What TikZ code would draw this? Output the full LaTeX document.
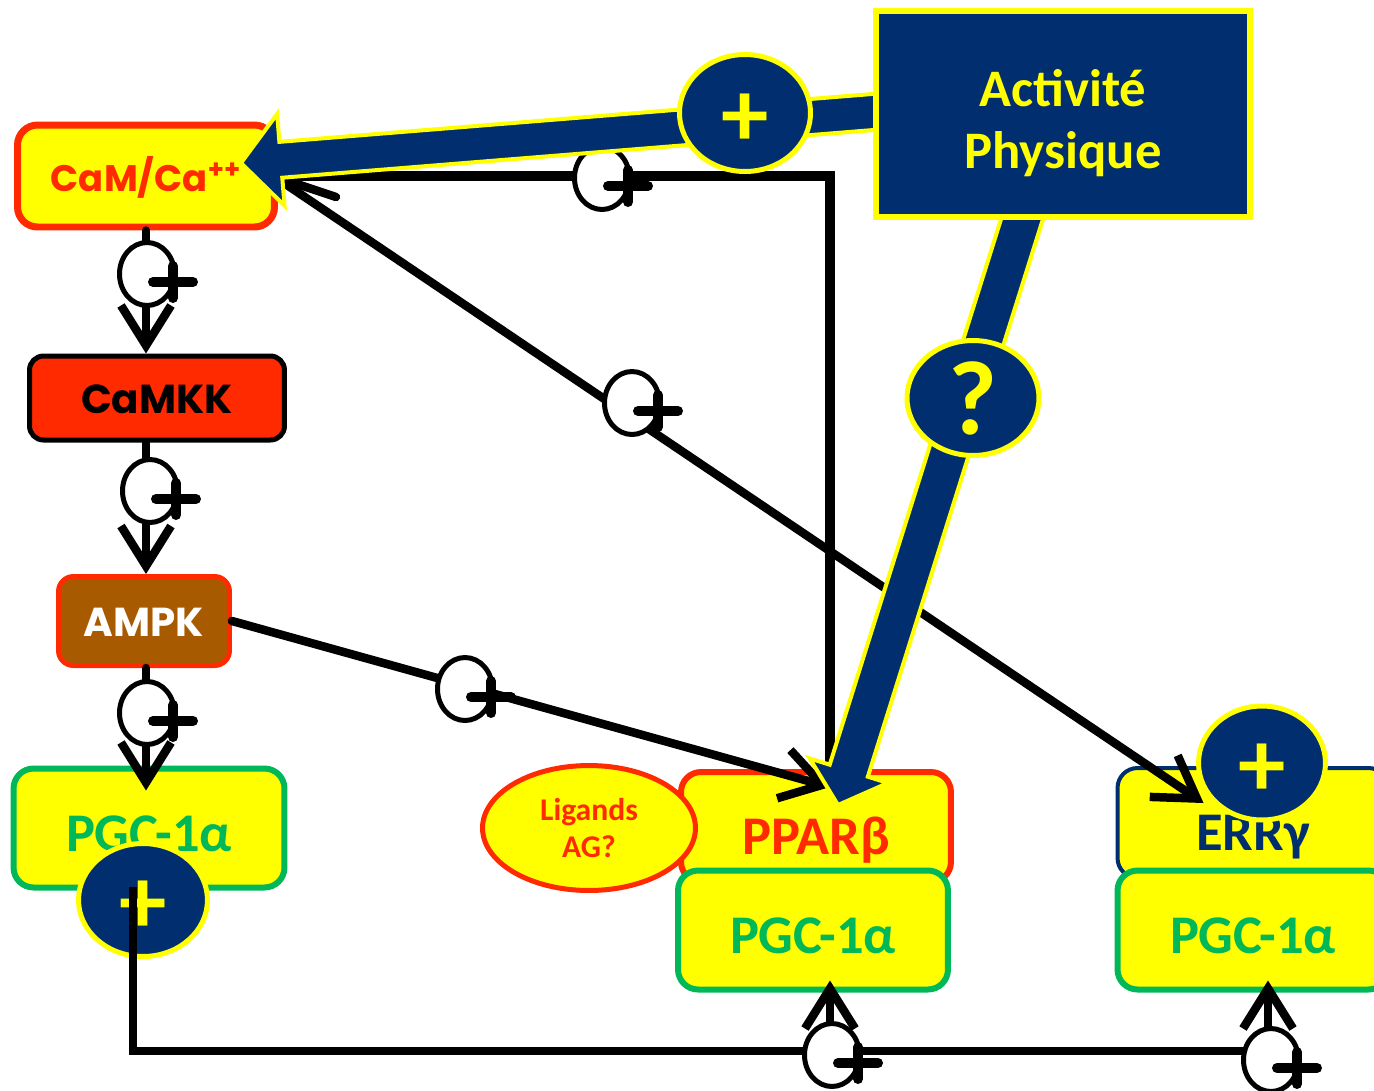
\documentclass[tikz,border=0pt]{standalone}
\usepackage{fontspec}
\setmainfont{Carlito}
\newfontfamily\comic{Poppins}
\usepackage{tikz}
\usetikzlibrary{shapes.geometric, arrows.meta, positioning, calc}

\definecolor{navyblue}{RGB}{0,46,110}
\definecolor{yel}{RGB}{255,255,0}
\definecolor{redb}{RGB}{255,42,0}
\definecolor{grn}{RGB}{0,184,88}
\definecolor{brownk}{RGB}{168,90,0}

\pgfdeclarelayer{front}
\pgfsetlayers{main,front}

\begin{document}
\begin{tikzpicture}[
        x=0.02cm, y=-0.02cm,
        box/.style={draw, rounded corners=0.4cm, line width=0.12cm, fill=yel, inner sep=0pt, text height=26.4pt, text depth=0pt, font=\bfseries\fontsize{31}{33}\selectfont},
        kbox/.style={box, text height=17.5pt, font=\comic\bfseries\fontsize{23}{25}\selectfont},
        blob/.style={ellipse, draw=yel, fill=navyblue, line width=0.1cm, text=yel, inner sep=0pt, font=\bfseries\fontsize{54}{54}\selectfont},
        ring/.style={ellipse, draw, fill=white, line width=0.1cm, minimum width=1.1cm, minimum height=1.26cm, inner sep=0pt},
        link/.style={line width=0.17cm, line cap=round},
        arrow/.style={link, -{Straight Barb[length=0.8cm, width=1cm]}},
        fat/.style={draw=yel, fill=navyblue, line width=0.08cm},
        plusbar/.style={line width=0.2cm, line cap=round},
        actplus/.pic={
            \node[ring] (-c) at (0,0) {};
            \draw[plusbar] (6,8) -- (46,8) (26,-8) -- (26,24);
        }
    ]
    \useasboundingbox (0,0) rectangle (1374,1090);
    \clip (0,0) rectangle (1374,1090);

    % Signalling cascade
    \node[kbox, draw=redb, line width=0.14cm, minimum width=5.14cm, minimum height=2.04cm, text=redb, font=\comic\bfseries\fontsize{21}{23}\selectfont] (cam) at (146,176) {CaM/Ca\textsuperscript{++}};
    \node[kbox, fill=redb, rounded corners=0.28cm, line width=0.1cm, minimum width=5.1cm, minimum height=1.68cm] (camkk) at (157,398) {CaMKK};
    \node[kbox, fill=brownk, draw=redb, rounded corners=0.3cm, line width=0.1cm, minimum width=3.42cm, minimum height=1.78cm, text=white] (ampk) at (144,621) {AMPK};
    \node[box, draw=grn, minimum width=5.42cm, minimum height=2.38cm, text=grn] (pgcL) at (149,828) {PGC-1α};

    % Nuclear receptors
    \node[box, draw=redb, minimum width=5.4cm, minimum height=2.2cm, text=redb, text height=31pt] (ppar) at (816,827) {PPARβ};
    \node[box, draw=grn, minimum width=5.4cm, minimum height=2.38cm, text=grn] (pgcM) at (813,930) {PGC-1α};
    \node[box, draw=navyblue, line width=0.08cm, minimum width=5.42cm, minimum height=2.2cm, text=navyblue, text height=31pt] (err) at (1253,823) {ERRγ};
    \node[box, draw=grn, minimum width=5.42cm, minimum height=2.38cm, text=grn] (pgcR) at (1253,930) {PGC-1α};
    \node[ellipse, draw=redb, fill=yel, line width=0.1cm, minimum width=4.26cm, minimum height=2.5cm, text=redb, align=center, font=\bfseries\fontsize{18}{20.5}\selectfont] (lig) at (589,828) {Ligands\\AG?};

    \begin{pgfonlayer}{front}
        \node[rectangle, draw=yel, fill=navyblue, line width=0.12cm, minimum width=7.5cm, minimum height=4.12cm, text=yel, align=center, font=\bfseries\fontsize{30}{35}\selectfont] (act) at (1063,114) {\rule{0pt}{1.05em}Activité\\Physique};
    \end{pgfonlayer}

    % Activating links
    \draw[arrow] (cam.south) -- (cam.south |- camkk.north);
    \draw[arrow] (camkk.south -| cam.south) -- (ampk.north -| cam.south);
    \draw[arrow] (ampk.south -| cam.south) -- ($(pgcL.north -| cam.south)+(0,25)$);
    \draw[arrow] (ampk.east) -- ($(ppar.north)+(14,18)$);
    \draw[arrow] ($(cam.east)+(6,7)$) -- ($(err.north west)+(88,37)$);
    \draw[link] ($(cam.east)+(13,6)$) -- ($(cam.east)+(58,21)$);
    \draw[link, line width=0.2cm] (cam.east) -| ($(ppar.north)+(14,0)$);

    \pic (r1) at (147,274) {actplus};
    \pic (r2) at (150,491) {actplus};
    \pic (r3) at (147,713) {actplus};
    \pic (r4) at (465,689) {actplus};
    \pic (r5) at (632,403) {actplus};
    \pic (r6) at (602,178) {actplus};

    % Effects of physical activity
    \coordinate (s1) at ($(act.west)+(25,-4)$);
    \coordinate (t1) at ($(cam.east)+(-37,-13)$);
    \coordinate (h1) at ($(t1)!0.8cm!(s1)$);
    \filldraw[fat] ($(s1)!0.36cm!90:(t1)$) -- ($(h1)!0.36cm!90:(t1)$) -- ($(h1)!0.92cm!90:(t1)$) -- (t1)
        -- ($(h1)!0.92cm!-90:(t1)$) -- ($(h1)!0.36cm!-90:(t1)$) -- ($(s1)!0.36cm!-90:(t1)$) -- cycle;
    \coordinate (s2) at ($(act.south)+(-35,-20)$);
    \coordinate (t2) at ($(ppar.north)+(22,36)$);
    \coordinate (h2) at ($(t2)!0.72cm!(s2)$);
    \filldraw[fat] ($(s2)!0.4cm!90:(t2)$) -- ($(h2)!0.4cm!90:(t2)$) -- ($(h2)!0.82cm!90:(t2)$) -- (t2)
        -- ($(h2)!0.82cm!-90:(t2)$) -- ($(h2)!0.4cm!-90:(t2)$) -- ($(s2)!0.4cm!-90:(t2)$) -- cycle;

    \node[blob, minimum width=2.62cm, minimum height=2.34cm] (navT) at (745,113) {\raisebox{-0.67cm}[0pt][0pt]{+}};
    \node[blob, minimum width=2.64cm, minimum height=2.3cm, font=\bfseries\fontsize{60}{60}\selectfont] (navQ) at (973,398) {?};
    \node[blob, minimum width=2.54cm, minimum height=2.28cm] (navR) at (1262,763) {\raisebox{-0.67cm}[0pt][0pt]{+}};
    \node[blob, minimum width=2.58cm, minimum height=2.26cm] (navL) at (143,900) {\raisebox{-0.67cm}[0pt][0pt]{+}};

    % Feedback to the co-activator
    \coordinate (busend) at (1270,1051);
    \coordinate (tapM) at (830,1051);
    \coordinate (tapR) at (1268,1051);
    \draw[link, line cap=butt] ($(navL.center)+(-10,-13)$) |- (busend);
    \draw[arrow] (tapM) -- ($(tapM |- pgcM.south)+(0,-12)$);
    \draw[arrow] (tapR) -- ($(tapR |- pgcR.south)+(0,-12)$);
    \pic (r7) at (832,1055) {actplus};
    \pic (r8) at (1271,1060) {actplus};
\end{tikzpicture}
\end{document}
